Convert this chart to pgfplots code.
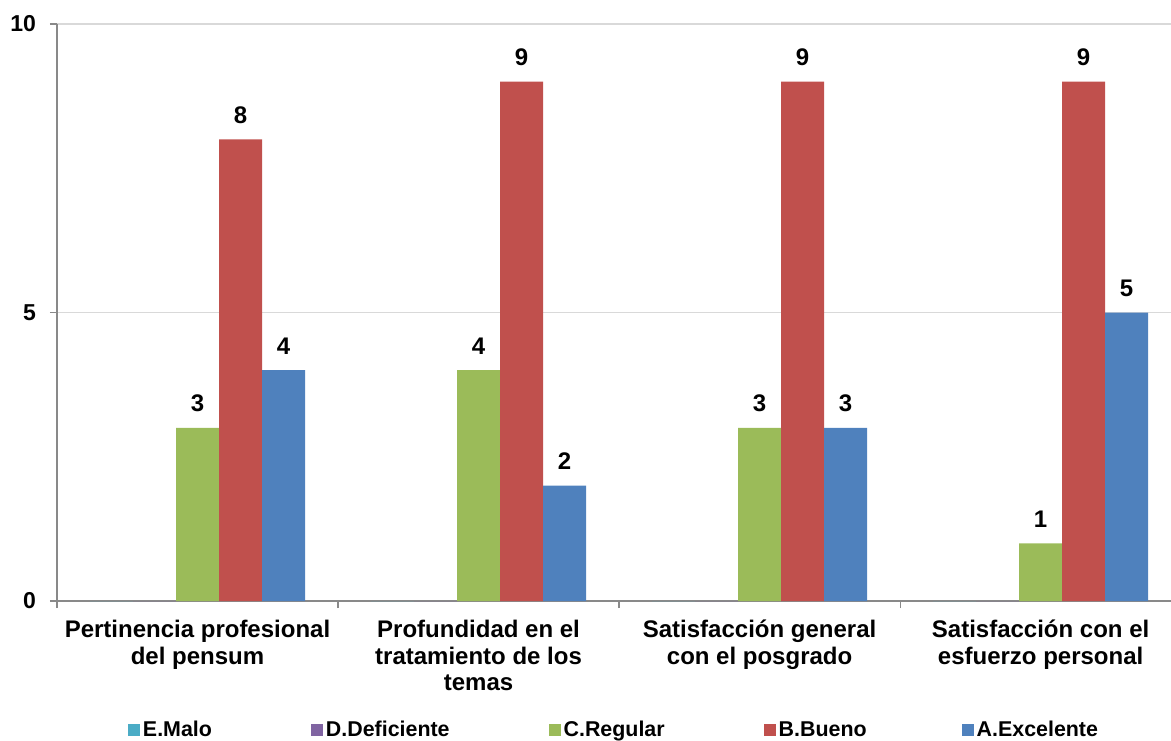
\documentclass[border=0pt]{standalone}
\usepackage{fontspec}
\setmainfont{Liberation Sans}
\usepackage{pgfplots}
\pgfplotsset{compat=1.18}

\definecolor{cMalo}{HTML}{4BACC6}
\definecolor{cDef}{HTML}{8064A2}
\definecolor{cReg}{HTML}{9BBB59}
\definecolor{cBue}{HTML}{C0504D}
\definecolor{cExc}{HTML}{4F81BD}
\definecolor{axgray}{HTML}{898989}
\definecolor{gridgray}{HTML}{D9D9D9}

\begin{document}
\begin{tikzpicture}
\path[use as bounding box] (0,0) rectangle (585.5pt,370pt);
\begin{axis}[
    at={(28.5pt,69.5pt)}, anchor=south west,
    scale only axis, width=557pt, height=288.5pt,
    xmin=0, xmax=3.964, ymin=0, ymax=10,
    axis x line=bottom, axis y line=left,
    axis line style={-, draw=axgray, line width=0.6pt},
    ybar, bar width=0.153,
    ytick={0,5,10},
    ymajorgrids, grid style={draw=gridgray, line width=0.75pt},
    xtick={0.5,1.5,2.5,3.5},
    xticklabels={Pertinencia profesional\\del pensum,
                 Profundidad en el\\tratamiento de los\\temas,
                 Satisfacción general\\con el posgrado,
                 Satisfacción con el\\esfuerzo personal},
    minor xtick={0,1,2,3},
    tick align=outside,
    major tick length=3.5pt, minor tick length=3.5pt,
    major x tick style={draw=none},
    minor x tick style={draw=axgray, line width=0.6pt},
    major y tick style={draw=axgray, line width=0.6pt},
    /pgf/number format/assume math mode=true,
    yticklabel style={font=\bfseries\fontsize{11.5}{13}\selectfont, xshift=-3.5pt},
    xticklabel style={align=center, font=\bfseries\fontsize{12}{13.3}\selectfont, yshift=-2.5pt},
    every node near coord/.append style={font=\bfseries\fontsize{12}{13}\selectfont, yshift=4.5pt},
    legend columns=5,
    legend style={at={(0.5,-0.2241)}, anchor=center, draw=none,
        font=\bfseries\fontsize{10.7}{12}\selectfont,
        nodes={inner sep=1pt},
        /tikz/column 1/.style={column sep=0.5pt},
        /tikz/column 2/.style={column sep=48.5pt},
        /tikz/column 3/.style={column sep=0.5pt},
        /tikz/column 4/.style={column sep=48.5pt},
        /tikz/column 5/.style={column sep=0.5pt},
        /tikz/column 6/.style={column sep=48.5pt},
        /tikz/column 7/.style={column sep=0.5pt},
        /tikz/column 8/.style={column sep=46.5pt},
        /tikz/column 9/.style={column sep=0.5pt}},
    legend image code/.code={\fill[#1] (0pt,-3pt) rectangle (6pt,3pt);},
]
\addplot[fill=cMalo, draw=none, bar shift=-0.306] coordinates {(0.5,0) (1.5,0) (2.5,0) (3.5,0)};
\addlegendentry{E.Malo}
\addplot[fill=cDef, draw=none, bar shift=-0.153] coordinates {(0.5,0) (1.5,0) (2.5,0) (3.5,0)};
\addlegendentry{D.Deficiente}
\addplot[fill=cReg, draw=none, bar shift=0, nodes near coords] coordinates {(0.5,3) (1.5,4) (2.5,3) (3.5,1)};
\addlegendentry{C.Regular}
\addplot[fill=cBue, draw=none, bar shift=0.153, nodes near coords] coordinates {(0.5,8) (1.5,9) (2.5,9) (3.5,9)};
\addlegendentry{B.Bueno}
\addplot[fill=cExc, draw=none, bar shift=0.306, nodes near coords] coordinates {(0.5,4) (1.5,2) (2.5,3) (3.5,5)};
\addlegendentry{A.Excelente}
\end{axis}
\end{tikzpicture}
\end{document}
